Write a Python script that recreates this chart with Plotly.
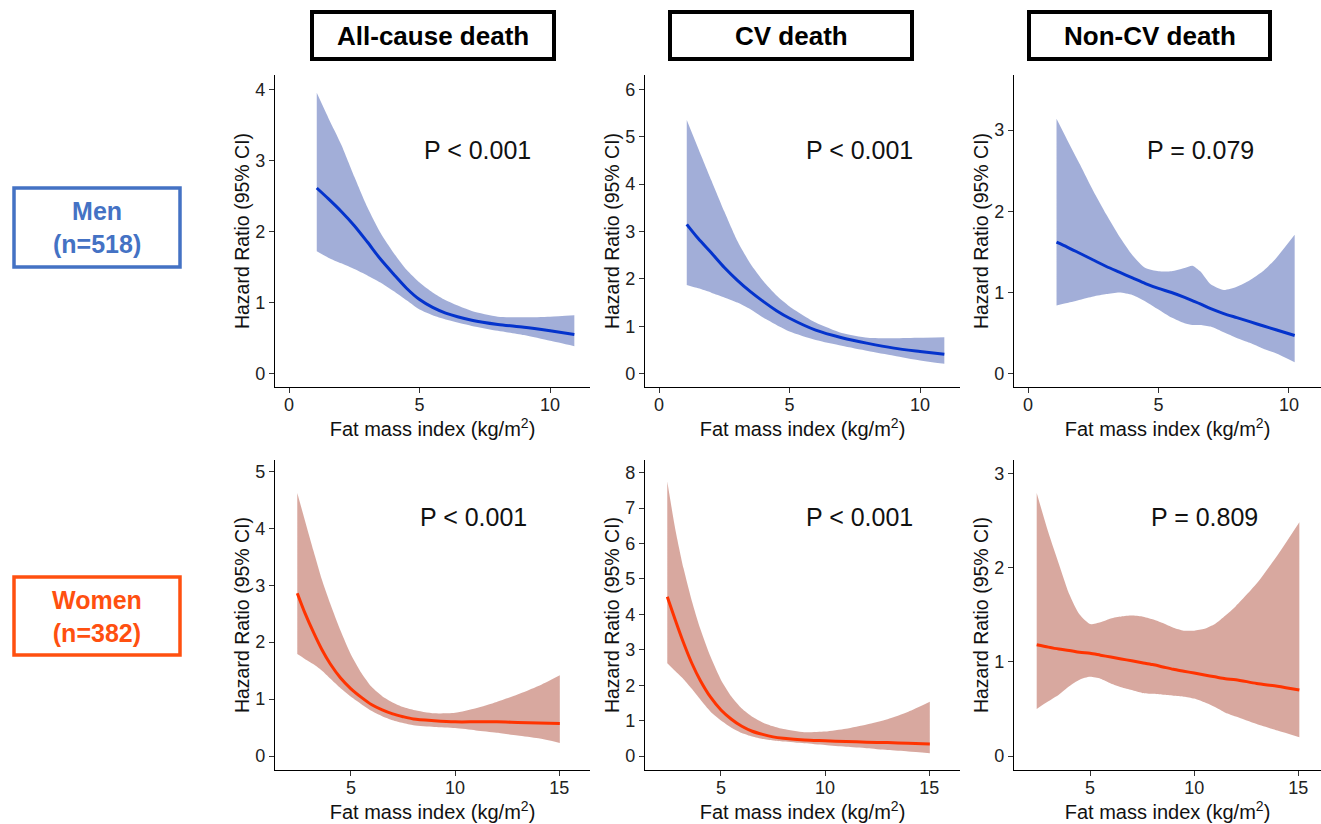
import plotly.graph_objects as go

W, H = 1321, 824

# ---------------- data ----------------
# Men, all-cause death
men_all_x = [1.06, 1.5, 2.0, 2.5, 3.0, 3.5, 4.0, 4.5, 5.0, 5.5, 6.0, 7.0, 8.0, 9.0, 10.0, 10.93]
men_all_hr = [2.61, 2.46, 2.28, 2.08, 1.85, 1.61, 1.40, 1.20, 1.04, 0.93, 0.85, 0.75, 0.69, 0.65, 0.60, 0.55]
men_all_up = [3.95, 3.60, 3.22, 2.77, 2.34, 1.98, 1.70, 1.46, 1.28, 1.14, 1.03, 0.88, 0.80, 0.79, 0.80, 0.82]
men_all_lo = [1.72, 1.63, 1.55, 1.47, 1.38, 1.28, 1.16, 1.03, 0.90, 0.82, 0.76, 0.67, 0.60, 0.54, 0.46, 0.385]

# Men, CV death
men_cv_x = [1.06, 1.5, 2.0, 2.5, 3.0, 3.5, 4.0, 4.5, 5.0, 6.0, 7.0, 8.0, 9.0, 10.0, 10.93]
men_cv_hr = [3.15, 2.85, 2.55, 2.24, 1.97, 1.73, 1.52, 1.33, 1.17, 0.92, 0.76, 0.64, 0.54, 0.47, 0.41]
men_cv_up = [5.35, 4.75, 4.08, 3.42, 2.80, 2.32, 1.95, 1.65, 1.42, 1.08, 0.86, 0.76, 0.75, 0.76, 0.77]
men_cv_lo = [1.87, 1.80, 1.71, 1.61, 1.50, 1.36, 1.18, 1.03, 0.89, 0.71, 0.59, 0.48, 0.38, 0.28, 0.21]

# Men, non-CV death
men_ncv_x = [1.09, 1.5, 2.0, 2.5, 3.0, 3.5, 4.0, 4.5, 5.0, 5.5, 6.0, 6.3, 6.6, 7.0, 7.5, 8.0, 8.5, 9.0, 9.5, 10.22]
men_ncv_hr = [1.62, 1.56, 1.48, 1.40, 1.32, 1.25, 1.18, 1.11, 1.05, 1.00, 0.94, 0.90, 0.86, 0.80, 0.74, 0.69, 0.64, 0.59, 0.54, 0.47]
men_ncv_up = [3.14, 2.88, 2.57, 2.25, 1.96, 1.69, 1.46, 1.30, 1.26, 1.26, 1.30, 1.33, 1.26, 1.10, 1.03, 1.07, 1.15, 1.26, 1.42, 1.71]
men_ncv_lo = [0.84, 0.87, 0.91, 0.95, 0.98, 1.00, 0.97, 0.89, 0.79, 0.69, 0.62, 0.60, 0.60, 0.58, 0.51, 0.44, 0.38, 0.31, 0.25, 0.14]

# Women, all-cause death
wom_all_x = [2.42, 2.8, 3.2, 3.6, 4.0, 4.5, 5.0, 5.5, 6.0, 6.5, 7.0, 7.5, 8.0, 9.0, 10.0, 11.0, 12.0, 13.0, 14.0, 15.03]
wom_all_hr = [2.86, 2.50, 2.17, 1.87, 1.62, 1.37, 1.18, 1.03, 0.90, 0.81, 0.74, 0.69, 0.65, 0.62, 0.60, 0.60, 0.60, 0.59, 0.58, 0.57]
wom_all_up = [4.62, 4.12, 3.60, 3.10, 2.68, 2.20, 1.78, 1.46, 1.21, 1.05, 0.94, 0.86, 0.81, 0.75, 0.76, 0.84, 0.95, 1.08, 1.23, 1.42]
wom_all_lo = [1.79, 1.70, 1.61, 1.50, 1.36, 1.19, 1.04, 0.91, 0.79, 0.70, 0.63, 0.58, 0.54, 0.51, 0.49, 0.45, 0.41, 0.36, 0.31, 0.23]

# Women, CV death
wom_cv_x = [2.42, 2.8, 3.2, 3.6, 4.0, 4.5, 5.0, 5.5, 6.0, 6.5, 7.0, 7.5, 8.0, 9.0, 10.0, 11.0, 12.0, 13.0, 14.0, 15.03]
wom_cv_hr = [4.50, 3.85, 3.20, 2.62, 2.14, 1.66, 1.30, 1.04, 0.84, 0.70, 0.61, 0.54, 0.50, 0.45, 0.43, 0.41, 0.39, 0.38, 0.36, 0.34]
wom_cv_up = [7.75, 6.42, 5.30, 4.38, 3.60, 2.80, 2.15, 1.68, 1.34, 1.11, 0.95, 0.84, 0.76, 0.67, 0.69, 0.77, 0.89, 1.04, 1.25, 1.53]
wom_cv_lo = [2.62, 2.40, 2.17, 1.90, 1.60, 1.25, 1.00, 0.80, 0.65, 0.55, 0.48, 0.44, 0.41, 0.36, 0.31, 0.26, 0.22, 0.17, 0.13, 0.08]

# Women, non-CV death
wom_ncv_x = [2.44, 3.0, 3.5, 4.0, 4.5, 5.0, 5.5, 6.0, 6.5, 7.0, 7.5, 8.0, 8.5, 9.0, 9.5, 10.0, 10.5, 11.0, 11.5, 12.0, 13.0, 14.0, 15.05]
wom_ncv_hr = [1.18, 1.155, 1.135, 1.12, 1.10, 1.09, 1.07, 1.05, 1.03, 1.01, 0.99, 0.97, 0.945, 0.92, 0.90, 0.88, 0.86, 0.84, 0.82, 0.81, 0.77, 0.74, 0.70]
wom_ncv_up = [2.79, 2.37, 2.04, 1.72, 1.50, 1.40, 1.42, 1.46, 1.48, 1.49, 1.48, 1.45, 1.41, 1.36, 1.33, 1.33, 1.35, 1.40, 1.49, 1.59, 1.83, 2.13, 2.48]
wom_ncv_lo = [0.50, 0.58, 0.65, 0.74, 0.81, 0.84, 0.82, 0.77, 0.73, 0.70, 0.67, 0.66, 0.65, 0.64, 0.63, 0.61, 0.57, 0.52, 0.46, 0.42, 0.34, 0.27, 0.20]

column_titles = ["All-cause death", "CV death", "Non-CV death"]
row_labels = ["Men<br>(n=518)", "Women<br>(n=382)"]
p_labels = ["P < 0.001", "P < 0.001", "P = 0.079", "P < 0.001", "P < 0.001", "P = 0.809"]
x_ticks_men = [0, 5, 10]
x_ticks_women = [5, 10, 15]

# ---------------- styling ----------------
FONT = "Liberation Sans, Arial, Helvetica, sans-serif"
MEN_LINE = "#0433CC"
MEN_FILL = "rgba(100,120,190,0.6)"
WOM_LINE = "#FF3300"
WOM_FILL = "rgba(190,110,95,0.6)"
MEN_BOX = "#4472C4"
WOM_BOX = "#FF5010"

def px(x):
    return x / W

def py(y):
    return 1 - y / H

col_dom = [(275, 590), (645, 960), (1014, 1321)]
row_dom = [(75, 387), (460, 770)]

panels = [
    (men_all_x, men_all_hr, men_all_up, men_all_lo, 0, 0, [-0.54, 11.53], [-0.19, 4.2]),
    (men_cv_x, men_cv_hr, men_cv_up, men_cv_lo, 0, 1, [-0.54, 11.53], [-0.28, 6.3]),
    (men_ncv_x, men_ncv_hr, men_ncv_up, men_ncv_lo, 0, 2, [-0.54, 11.23], [-0.165, 3.68]),
    (wom_all_x, wom_all_hr, wom_all_up, wom_all_lo, 1, 0, [1.35, 16.48], [-0.246, 5.2]),
    (wom_cv_x, wom_cv_hr, wom_cv_up, wom_cv_lo, 1, 1, [1.35, 16.48], [-0.395, 8.36]),
    (wom_ncv_x, wom_ncv_hr, wom_ncv_up, wom_ncv_lo, 1, 2, [1.35, 16.09], [-0.148, 3.14]),
]

fig = go.Figure()
layout = {}
annotations = []
shapes = []

p_pos = [(477, 150), (859, 150), (1200, 150), (473, 517), (859, 517), (1204, 517)]

for i, (xs, hr, up, lo, r, c, xr, yr) in enumerate(panels):
    n = i + 1
    xa = "x" if n == 1 else f"x{n}"
    ya = "y" if n == 1 else f"y{n}"
    line_c = MEN_LINE if r == 0 else WOM_LINE
    fill_c = MEN_FILL if r == 0 else WOM_FILL
    # lower CI bound (invisible), then upper bound filled down to it
    fig.add_trace(go.Scatter(
        x=xs, y=lo, mode="lines", line=dict(width=0, color=fill_c, shape="spline", smoothing=0.6),
        hoverinfo="skip", showlegend=False, xaxis=xa, yaxis=ya))
    fig.add_trace(go.Scatter(
        x=xs, y=up, mode="lines", fill="tonexty", fillcolor=fill_c,
        line=dict(width=0, color=fill_c, shape="spline", smoothing=0.6),
        hoverinfo="skip", showlegend=False, xaxis=xa, yaxis=ya))
    fig.add_trace(go.Scatter(
        x=xs, y=hr, mode="lines", line=dict(color=line_c, width=3, shape="spline", smoothing=0.8),
        showlegend=False, xaxis=xa, yaxis=ya))
    axis_common = dict(showline=True, linecolor="black", linewidth=1.3, ticks="outside",
                       ticklen=5, tickwidth=1.2, tickcolor="#333", showgrid=False, zeroline=False,
                       automargin=False,
                       tickfont=dict(family=FONT, size=18, color="#222"))
    xkey = "xaxis" if n == 1 else f"xaxis{n}"
    ykey = "yaxis" if n == 1 else f"yaxis{n}"
    layout[xkey] = dict(axis_common, domain=[px(col_dom[c][0]), px(col_dom[c][1])],
                        range=xr, anchor=ya, tickmode="array", ticklabelstandoff=-4,
                        tickvals=x_ticks_men if r == 0 else x_ticks_women,
                        title=dict(text="Fat mass index (kg/m<sup>2</sup>)", standoff=4,
                                   font=dict(family=FONT, size=20, color="#111")))
    layout[ykey] = dict(axis_common, domain=[py(row_dom[r][1]), py(row_dom[r][0])],
                        range=yr, anchor=xa, dtick=1, tick0=0,
                        title=dict(text="Hazard Ratio (95% CI)", standoff=0,
                                   font=dict(family=FONT, size=19.5, color="#111")))
    annotations.append(dict(text=p_labels[i], x=px(p_pos[i][0]), y=py(p_pos[i][1]),
                            xref="paper", yref="paper", showarrow=False,
                            xanchor="center", yanchor="middle",
                            font=dict(family=FONT, size=25, color="#111")))

# column header boxes
hdr_boxes = [(312, 554), (670, 912), (1029, 1270)]
for (x0, x1), t in zip(hdr_boxes, column_titles):
    shapes.append(dict(type="rect", xref="paper", yref="paper", x0=px(x0), x1=px(x1),
                       y0=py(59), y1=py(12), line=dict(color="black", width=4), fillcolor="white"))
    annotations.append(dict(text=f"<b>{t}</b>", x=px((x0 + x1) / 2), y=py(36), xref="paper", yref="paper",
                            showarrow=False, xanchor="center", yanchor="middle",
                            font=dict(family=FONT, size=26, color="black")))

# row label boxes
row_boxes = [((14, 180, 188, 267), MEN_BOX), ((14, 180, 577, 655), WOM_BOX)]
for ((x0, x1, y0, y1), col), t in zip(row_boxes, row_labels):
    shapes.append(dict(type="rect", xref="paper", yref="paper", x0=px(x0), x1=px(x1),
                       y0=py(y1), y1=py(y0), line=dict(color=col, width=3.5)))
    annotations.append(dict(text=f"<b>{t}</b>", x=px((x0 + x1) / 2), y=py((y0 + y1) / 2),
                            xref="paper", yref="paper", showarrow=False,
                            xanchor="center", yanchor="middle",
                            font=dict(family=FONT, size=25, color=col)))

fig.update_layout(width=W, height=H, margin=dict(l=0, r=0, t=0, b=0, autoexpand=False),
                  paper_bgcolor="white", plot_bgcolor="white",
                  annotations=annotations, shapes=shapes, **layout)

fig.write_html("out.html", config={"displayModeBar": False},
               post_script="document.body.style.margin='0px';document.body.style.overflow='hidden';")
